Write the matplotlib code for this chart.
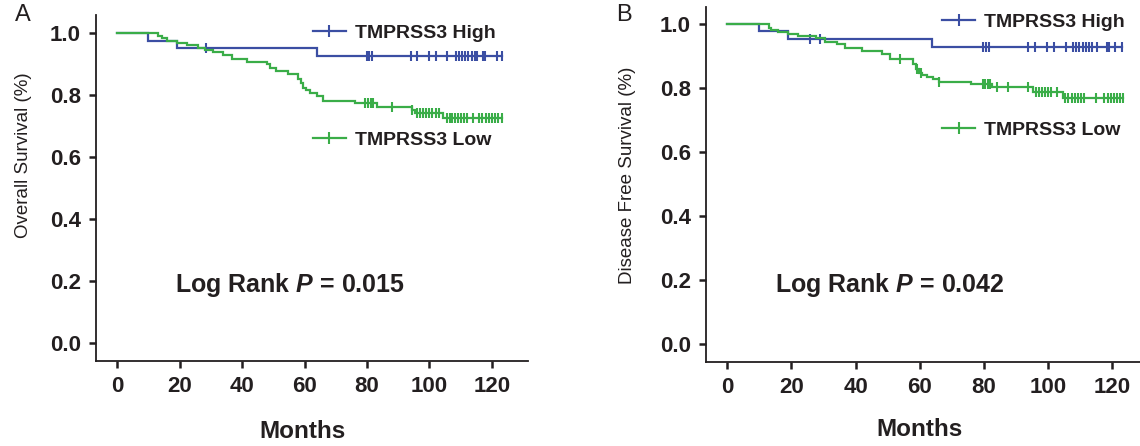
import numpy as np
import matplotlib
matplotlib.use("Agg")
import matplotlib.pyplot as plt
from matplotlib.lines import Line2D

plt.rcParams['font.family'] = ['Liberation Sans', 'DejaVu Sans']
plt.rcParams['mathtext.fontset'] = 'custom'
plt.rcParams['mathtext.rm'] = 'Liberation Sans:bold'
plt.rcParams['mathtext.it'] = 'Liberation Sans:italic:bold'

# ---------------- data ----------------
# Panel A: Overall survival
A_high_t = [0, 10, 19, 64]
A_high_s = [1.0, 0.975, 0.95, 0.927]
A_high_end = 123.2
A_high_cens = [28.6, 80, 80.7, 81.5, 94, 96, 100, 102, 105.6, 108.5, 109.5, 110.5,
               111.5, 112.5, 113.5, 114.5, 115.2, 117.1, 117.8, 121.6, 123.2]

A_low_t = [0, 13.1, 14.2, 15.8, 19.2, 22.2, 26, 28, 30.8, 34, 36.7, 41.5, 47.9, 48.9,
           51, 54.8, 58, 58.8, 59.6, 60.5, 61.8, 63.9, 65.8, 76.2, 83.2, 94.4, 95.4, 104.5]
A_low_s = [1.0, 0.990, 0.983, 0.974, 0.967, 0.960, 0.953, 0.946, 0.940, 0.928, 0.917,
           0.908, 0.899, 0.888, 0.878, 0.869, 0.851, 0.840, 0.824, 0.816, 0.808, 0.797,
           0.781, 0.773, 0.760, 0.750, 0.743, 0.726]
A_low_end = 123.2
A_low_cens = [79.5, 80.3, 81.2, 82, 88, 94.4, 96, 97, 98, 99, 100, 101, 102, 103,
              105.6, 106.5, 107.4, 108.3, 109.2, 110.1, 111, 112, 114, 116, 117, 118,
              119, 120, 121, 122, 123.2]
A_pval = "0.015"

# Panel B: Disease free survival
B_high_t = [0, 9.9, 19, 63.9]
B_high_s = [1.0, 0.978, 0.953, 0.929]
B_high_end = 122.9
B_high_cens = [25.8, 28.9, 79.7, 80.5, 81.5, 93.8, 95.9, 99.5, 101.8, 105.7, 107.7,
               108.7, 109.7, 110.7, 111.7, 112.7, 113.7, 115.1, 118.2, 118.8, 120.8, 122.9]

B_low_t = [0, 13, 13.8, 15.9, 19, 22.1, 27.8, 30.4, 34.1, 36.7, 41.9, 48.1, 50.7, 57.8,
           58.8, 59.8, 60.8, 62.1, 64.2, 66, 76.1, 82.4, 95.3, 104.7]
B_low_s = [1.0, 0.986, 0.981, 0.974, 0.969, 0.963, 0.955, 0.945, 0.937, 0.926, 0.916,
           0.905, 0.891, 0.874, 0.860, 0.846, 0.840, 0.835, 0.828, 0.820, 0.812, 0.804,
           0.788, 0.770]
B_low_end = 123.4
B_low_cens = [53.8, 59.2, 60.3, 66, 79.7, 80.4, 81.1, 81.8, 83.9, 87.5, 93.8, 96.3,
              97.2, 98.1, 99, 99.9, 100.8, 102.6, 105.3, 106.3, 107.3, 108.3, 109.3,
              110.3, 111.3, 115, 117.5, 118.5, 119.5, 120.5, 121.5, 122.5, 123.4]
B_pval = "0.042"

x_ticks = [0, 20, 40, 60, 80, 100, 120]
y_ticks = [0.0, 0.2, 0.4, 0.6, 0.8, 1.0]
series_labels = ["TMPRSS3 High", "TMPRSS3 Low"]

# ---------------- style ----------------
BLUE = '#3b4ea3'
GREEN = '#3aad48'
INK = '#231f20'
LW = 1.6

fig = plt.figure(figsize=(11.4, 4.46), dpi=100)


def km(ax, t, s, end, cens, color):
    tt = list(t) + [end]
    ss = list(s) + [s[-1]]
    ax.step(tt, ss, where='post', color=color, lw=LW, solid_joinstyle='miter')
    idx = np.searchsorted(np.array(t), np.array(cens), side='right') - 1
    cy = np.array(s)[idx]
    ax.plot(cens, cy, ls='none', marker='|', ms=7, mew=1.5, color=color)


def panel(rect, xlim, ylim, hi, lo, ylabel, ylab_xy, xlab_xy, pval, leg_x, leg_hi_y,
          leg_lo_y, p_xy):
    ax = fig.add_axes(rect)
    km(ax, *hi, BLUE)
    km(ax, *lo, GREEN)
    ax.set_xlim(*xlim)
    ax.set_ylim(*ylim)
    for sp in ['top', 'right']:
        ax.spines[sp].set_visible(False)
    for sp in ['left', 'bottom']:
        ax.spines[sp].set_color(INK)
        ax.spines[sp].set_linewidth(1.3)
    ax.set_xticks(x_ticks)
    ax.set_yticks(y_ticks)
    ax.set_yticklabels([f"{v:.1f}" for v in y_ticks])
    ax.tick_params(axis='both', length=5, width=1.8, color=INK, pad=6,
                   labelsize=16, labelcolor=INK)
    for lab in ax.get_xticklabels() + ax.get_yticklabels():
        lab.set_fontweight('bold')
    ax.set_xlabel("Months", fontsize=17.5, fontweight='bold', color=INK, va='center')
    ax.xaxis.set_label_coords(*xlab_xy)
    ax.set_ylabel(ylabel, fontsize=13.5, color=INK, va='center')
    ax.yaxis.set_label_coords(*ylab_xy)

    h_hi = Line2D([], [], color=BLUE, lw=LW, marker='|', ms=8, mew=1.5)
    h_lo = Line2D([], [], color=GREEN, lw=LW, marker='|', ms=8, mew=1.5)
    kw = dict(loc='center left', frameon=False, handlelength=1.7, handletextpad=0.45,
              borderpad=0, borderaxespad=0, prop={'weight': 'bold', 'size': 14})
    l1 = ax.legend([h_hi], [series_labels[0]], bbox_to_anchor=(leg_x, leg_hi_y), **kw)
    ax.add_artist(l1)
    l2 = ax.legend([h_lo], [series_labels[1]], bbox_to_anchor=(leg_x, leg_lo_y), **kw)
    for t in l1.get_texts() + l2.get_texts():
        t.set_color(INK)
    ax.text(p_xy[0], p_xy[1], f"Log Rank $P$ = {pval}", transform=ax.transAxes,
            fontsize=18, fontweight='bold', color=INK, va='center', ha='left')
    return ax


axA = panel([96 / 1140, 85 / 446, 432 / 1140, 346 / 446], (-6.8, 131.6), (-0.058, 1.058),
            (A_high_t, A_high_s, A_high_end, A_high_cens),
            (A_low_t, A_low_s, A_low_end, A_low_cens),
            "Overall Survival (%)", (-0.167, 0.595), (0.479, -0.205), A_pval,
            0.502, 0.948, 0.639, (0.183, 0.22))

axB = panel([706 / 1140, 84 / 446, 434 / 1140, 355 / 446], (-6.6, 128.6), (-0.056, 1.053),
            (B_high_t, B_high_s, B_high_end, B_high_cens),
            (B_low_t, B_low_s, B_low_end, B_low_cens),
            "Disease Free Survival (%)", (-0.18, 0.527), (0.493, -0.19), B_pval,
            0.544, 0.958, 0.654, (0.159, 0.217))

fig.text(15 / 1140, 1 - 4 / 446, "A", fontsize=17, color=INK, va='top', ha='left')
fig.text(616 / 1140, 1 - 4 / 446, "B", fontsize=17, color=INK, va='top', ha='left')

fig.savefig("out.png", dpi=100)
